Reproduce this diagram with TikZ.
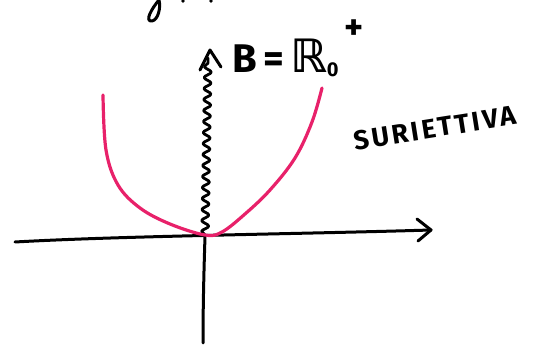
\documentclass[tikz,border=0pt]{standalone}
\usepackage{fontspec}
\setsansfont{Fira Sans}
\newfontfamily\djv{DejaVu Sans}
\usetikzlibrary{decorations.pathmorphing,arrows.meta}
\definecolor{pinkc}{HTML}{E8216A}
\tikzset{
  ink/.style={line width=3pt,line cap=round,line join=round,black},
  curvepen/.style={line width=3.2pt,line cap=round,pinkc}
}
\begin{document}
\begin{tikzpicture}[x=1pt,y=-1pt]
\useasboundingbox (0,0) rectangle (544,347);
\clip (0,0) rectangle (544,347);
% axes
\coordinate (xl) at (15,242);
\coordinate (xr) at (431,230);
\coordinate (yb) at (203,343);
\coordinate (yt) at (210,50);
\coordinate (o) at (205,235);
\draw[ink] (xl) .. controls (120,236) and (300,234) .. (xr);
\draw[ink] (417,219) -- (xr) -- (418,241);
\draw[ink] (yb) .. controls (203,290) and (205,240) .. (o);
% wavy line
\draw[ink,line width=2.8pt,decorate,decoration={snake,amplitude=3.5pt,segment length=11pt}] (o) -- (208,58);
\draw[ink] (200,70) -- (yt) -- (221,67);
% parabola
\draw[curvepen] plot[smooth,tension=0.6] coordinates {(103,95) (106,150) (118,185) (140,208) (170,224) (205,235) (222,232) (245,214) (270,190) (295,158) (312,122) (322,88)};
% labels
\node[font=\sffamily\bfseries\fontsize{40}{42}\selectfont,anchor=west,inner sep=0pt] (blab) at (232,58) {B\,=\,{\djv\bfseries\fontsize{46}{46}\selectfont ℝ}\kern-1pt\raisebox{-4pt}{\fontsize{20}{20}\selectfont 0}};
\node[font=\sffamily\bfseries\fontsize{36}{36}\selectfont,inner sep=0pt] (plus) at (354,30) {+};
\node[font=\sffamily\bfseries\fontsize{27}{30}\selectfont,rotate=9,inner sep=0pt] (suri) at (435,128) {\addfontfeature{LetterSpace=10}SURIETTIVA};
% cut-off letter at top
\draw[ink] (159,0) .. controls (152,8) and (144,22) .. (152,21) .. controls (158,20) and (161,8) .. (159,0);
\fill (183,1) circle (1.8);
\fill (211,1) circle (1.8);
\end{tikzpicture}
\end{document}
